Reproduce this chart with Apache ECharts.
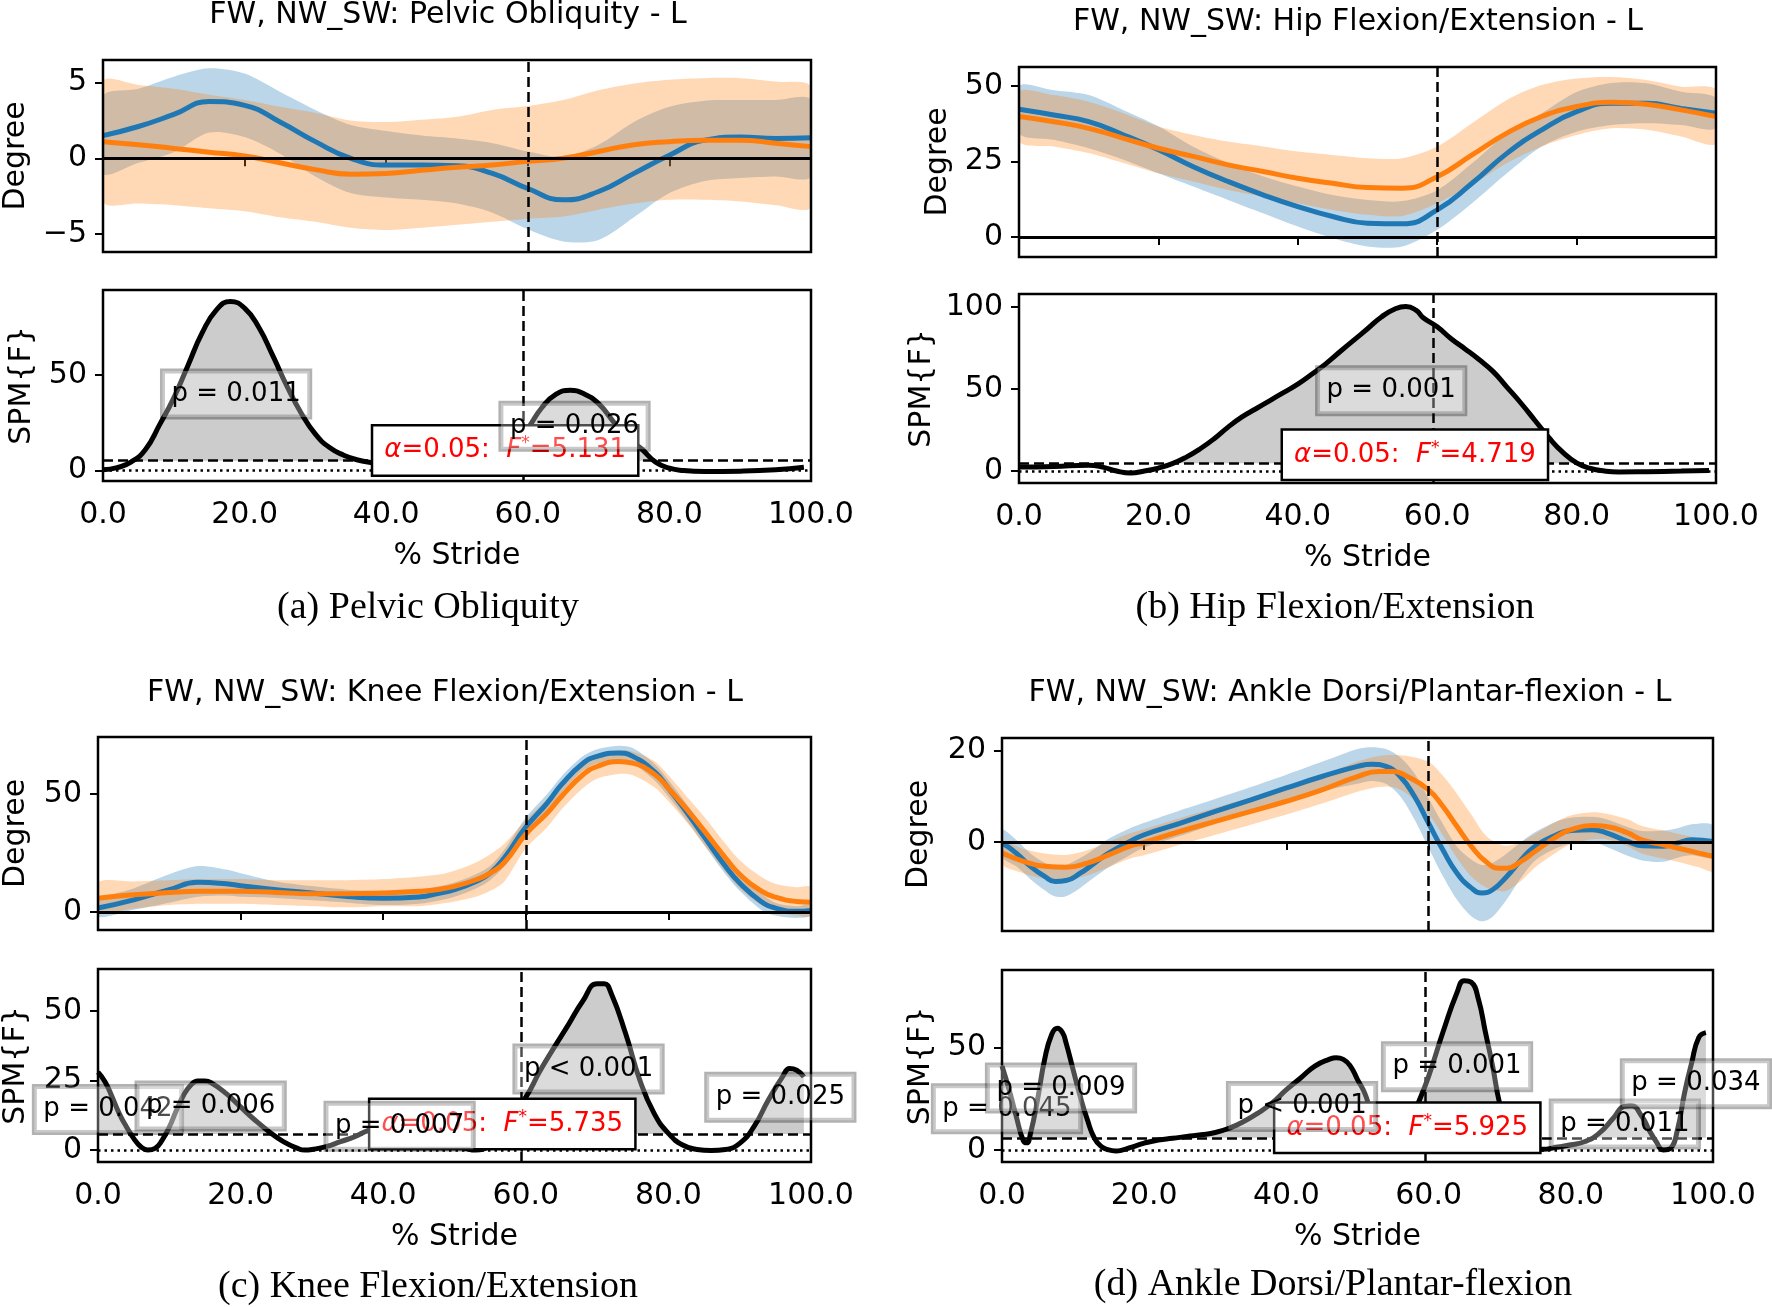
<!DOCTYPE html>
<html><head><meta charset="utf-8">
<script src="https://cdn.jsdelivr.net/npm/echarts@6/dist/echarts.min.js"></script>
<style>html,body{margin:0;padding:0;background:#fff}#c{width:1772px;height:1307px}</style>
</head><body><div id="c"></div><script>
// ---------------- data ----------------
const X21 = [0,5,10,15,20,25,30,35,40,45,50,55,60,65,70,75,80,85,90,95,100];
const toeOffKin = [60, 60, 60, 60];
const toeOffSpm = [59.4, 59.4, 59.4, 59.5];
const thresholds = [5.131, 4.719, 5.735, 5.925];

// (a) Pelvic obliquity
const aBlue    = [1.5,2.1,2.9,3.75,3.5,2.4,1.1,0.0,-0.45,-0.45,-0.5,-1.0,-2.0,-2.75,-2.2,-1.0,0.2,1.2,1.4,1.3,1.35];
const aBlueHi  = [4.1,4.6,5.4,5.95,5.6,4.4,3.2,2.2,1.8,1.5,1.3,1.0,0.45,0.1,0.9,2.4,3.4,3.8,3.85,3.85,3.85];
const aBlueLo  = [-1.0,-0.3,0.4,1.7,1.4,0.3,-1.2,-2.3,-2.6,-2.75,-3.0,-3.6,-4.7,-5.5,-5.4,-3.9,-2.3,-1.5,-1.3,-1.2,-1.2];
const aOrange  = [1.1,0.9,0.65,0.4,0.15,-0.3,-0.75,-1.05,-1.0,-0.8,-0.6,-0.45,-0.2,0.0,0.45,0.9,1.1,1.2,1.2,1.0,0.77];
const aOrangeHi= [5.07,4.85,4.6,4.2,3.85,3.4,3.0,2.5,2.4,2.55,2.75,3.2,3.45,3.85,4.5,4.95,5.2,5.3,5.3,5.07,4.7];
const aOrangeLo= [-2.86,-3.0,-3.1,-3.3,-3.5,-3.9,-4.2,-4.6,-4.75,-4.6,-4.4,-4.2,-4.0,-3.85,-3.4,-3.0,-2.75,-2.75,-2.86,-3.1,-3.2];
const aSpmX = [0,2,4,6,8,10,12,14,16,18,20,22,24,26,28,30,32,34,36,38,40,44,48,52,55,57,58,60,62,64,66,68,70,72,74,76,78,80,82,85,90,95,99];
const aSpmF = [0.35,1.5,4.5,11,24,38,55,72,84,88.5,85,75,60,44,30,19,12,8,5.5,4,2.5,1.2,0.8,1.5,4,9,13,22,33,40,42,40,35,26,17,11.5,4.5,1.2,0,-0.5,-0.35,0.35,1.75];

// (b) Hip flexion/extension
const bBlue    = [42.3,40.4,38.2,33.8,28.9,23.3,18.4,14,10.1,6.8,4.6,4.4,9.0,17.8,27.7,35.5,41.5,44.3,44.3,42.6,41];
const bBlueHi  = [50,48.6,47,42,36.7,29.9,24.5,20.1,16.7,13.9,12.3,11.9,15.5,24.4,34.3,41,48,51,50.9,48.1,46];
const bBlueLo  = [34.4,32.2,29.4,25.6,21.1,16.7,12.3,7.9,3.5,-0.3,-3.1,-3.1,2.4,11.2,21.1,30,34.9,37.1,37.7,37.1,36];
const bOrange  = [39.9,38.2,36,32.7,29.4,26.7,23.9,21.7,19.5,17.8,16.4,16.2,20,27.2,34.4,39.9,43.2,44.6,44,42.1,39.9];
const bOrangeHi= [48.1,47,44.8,41,36.6,33.8,31.6,30,28.3,27.2,26.1,26.1,30,37.7,45.4,50.3,52.5,53,52,49.8,48.7];
const bOrangeLo= [31.6,30,27.8,24.5,21.1,18.4,15.6,13.4,11.2,9,7.4,7,11.2,17.3,24.5,30,33.8,36,35.5,33.3,31];
const bSpmX = [0,5,10,12,14,16,18,20,22,24,26,28,30,32,34,36,38,40,42,44,46,48,50,52,54,55.5,57,58,60,62,64,66,68,70,72,74,76,78,80,82,84,86,90,95,99];
const bSpmF = [2.4,2.8,3.5,2.4,0,-1.2,0,1.8,4.5,8.5,13.6,19.7,26.8,33,38,43,48,53,59,65.4,72.6,79.7,86.8,94,99,100.4,98,93.5,88,80.7,74.5,68,60.8,51.2,41.5,31,20.5,11.5,5,1.6,0,-0.6,-0.4,0,0.4];

// (c) Knee flexion/extension
const cX = [0,5,10,14,18,20,25,30,35,40,45,48,50,53,55,57,60,63,65,68,70,73,75,78,80,83,85,88,90,93,95,98,100];
const cBlue    = [1.7,5.2,9.5,12.6,12,11.2,9.5,8.1,6.6,5.9,6.4,8.1,9.5,13,16.5,23,36,46.2,54,63,66,67.4,66,59.6,52.5,40.5,32,19.4,12.3,4.5,1.7,0.3,0.7];
const cBlueHi  = [5,10,16,19.5,18,16.5,13,11,9.5,9,9.5,11,12.5,16,19.5,26.5,40,50,57.5,66,69,70.5,69.5,63,56,44,35.5,23,16,8,4,2.5,3];
const cBlueLo  = [-2,1,4,6.5,7,6.5,6,5,4,3,3.5,5,6.5,10,13.5,19.5,32,42.5,50.5,60,63,64.5,63,56,49,37,28.5,16,9,1,-1.5,-2.5,-1.5];
const cOrange  = [5.9,7.3,8.3,8.8,8.8,8.8,8.3,7.8,7.8,8.1,8.8,9.7,10.9,13.7,16.5,21,33,42,49,58.2,61.7,63.8,63.1,58.5,52.5,42,34.5,23,16,9,6.3,4.5,4.2];
const cOrangeHi= [12.5,13,13.5,14,14,14,13.5,13.5,13.5,14,15,16,17.5,21,24.5,29,39,48,55,64,67,68.5,68,64,58,47.5,40.5,29,22,15,12,10.5,10.5];
const cOrangeLo= [0,1.5,3,3.5,3.5,3.5,3,2.5,2,2.5,2.5,3.5,4.5,6.5,9,13,27,36,43.5,52.5,56.5,58.5,58,53,47,36.5,28.5,17,10,3,0.5,-1.5,-1.5];
const cSpmX = [0,1,2,3,4,5,6,7,8,9,10,11,12,13,14,15,16,18,20,22,24,26,28,29,30,32,34,36,38,40,42,44,46,48,50,52,53,54,56,58,60,62,64,66,68,70,71,72,74,76,78,80,82,84,86,88,90,92,94,96,97,98,99];
const cSpmF = [28,24.5,19,13,8.3,4.2,1.2,0,0.6,3.6,8.3,14.3,19.7,23.3,24.8,24.8,24,20.3,15.5,10.8,6.6,3,0.6,0,0.2,1.2,3,4.8,7.2,8.2,8.8,8.5,7,4.5,2,0.3,0,0.3,5,12.5,19,28.5,37,45.2,53.6,59.8,59.8,56.2,41.9,25.1,13.2,6,1.8,0.2,-0.2,0.2,2.4,8.4,17.9,26.3,29.3,28.7,26.3];

// (d) Ankle dorsi/plantar-flexion
const dXb = [0,2,4,6,7.5,9,11,13,15,18,20,25,30,35,40,45,50,52,54,56,58,60,62,64,66,67.5,69,71,73,75,78,80,83,85,88,90,93,95,97,100];
const dBlue    = [-0.2,-2.4,-5.3,-7.5,-8.6,-8.4,-6.8,-4.6,-2.4,0.15,1.6,4.1,6.7,9.2,11.8,14.3,16.5,17,16.5,14.3,10,4.1,-1.7,-6.8,-10,-11.1,-10.4,-7.5,-3.9,-0.9,1.6,2.5,2.7,2,0.15,-0.8,-0.9,-0.2,0.5,0.15];
const dBlueHi  = [2.7,0.5,-2.5,-4.5,-5.3,-5,-3.5,-1.5,0.7,3,4.2,6.9,9.4,12,14.7,17.5,20.3,20.7,20.3,18.5,15,9.5,4,-1,-3.8,-5,-4.5,-2.5,0,2.2,4.5,5.3,5.5,5,3.3,2.4,2.5,3,3.9,3.6];
const dBlueLo  = [-3.2,-5.3,-8.1,-10.5,-11.9,-11.8,-10,-7.7,-5.5,-2.8,-1.2,1.3,4,6.4,8.9,11.1,12.7,13.3,12.7,10,5,-1.3,-7.4,-12.6,-16.2,-17.3,-16.3,-12.5,-7.8,-4,-1.3,-0.3,0,-1,-3,-4,-4.3,-3.4,-2.9,-3.3];
const dXo = [0,3,6,9,12,15,18,20,25,30,35,40,45,50,53,55,57,60,62,64,66,68,70,71,73,75,78,80,83,85,88,90,93,95,98,100];
const dOrange  = [-2.4,-4.2,-5.3,-5.5,-4.6,-2.8,-0.9,-0.1,2.3,4.5,6.7,8.9,11.4,14.3,15.4,15.4,14.3,11.4,7.8,3.4,-0.9,-4.2,-5.7,-5.7,-4.2,-2,1.2,2.7,3.6,3.4,2,0.5,-0.6,-1.3,-2.4,-3.1];
const dOrangeHi= [0,-1.5,-2.5,-2.8,-1.8,0,1.9,2.8,5.2,7.5,9.7,12,14.5,17.6,18.8,19,18.8,17.5,14.5,10.5,6,1.5,-0.5,-0.8,0,1.8,4.5,5.8,6.5,6.2,5,3.5,2.5,1.8,0.8,0.2];
const dOrangeLo= [-4.8,-6.8,-8,-8.2,-7.3,-5.5,-3.6,-2.9,-0.6,1.6,3.8,6,8.4,11,12,12,10.5,6,1.5,-3.5,-7.5,-9.8,-10.7,-10.6,-8.5,-5.5,-2.2,-0.5,0.6,0.6,-0.9,-2.5,-3.6,-4.3,-5.5,-6.3];
const dSpmX = [0,1,2,3,3.5,4,5,6,7,7.8,8.5,9,10,11,12,13,14,15,16,17,18,20,22,24,26,28,30,32,34,36,38,40,42,44,46,47,48,49,50,51,52,53,54,55,56,57,58,58.5,60,62,64,65,66,67,68,69,70,71,72,73,74,75,76,78,80,82,84,86,87.5,88.5,90,91,92,93,94,95,96,97,98,99];
const dSpmF = [41,29.5,16.4,4.5,3.5,8,24.6,44.3,56.6,59.5,57.4,52.5,39.3,26.2,14.8,5.7,1.6,0,-0.5,0,1.1,3.3,4.9,5.7,6.6,7.4,8.5,10.7,13.9,18,23,29.5,35.2,41,44.3,45.1,44.3,41,34.4,27.9,18,12,8,7,8,12,19,22.6,36,57.4,77,82.8,82,73.8,57.4,41,22.6,12,6,3,1.5,0.7,0.3,1.3,2.5,4.1,8.2,15.6,21.3,21.6,16.4,9.8,4.1,0,0.8,9.8,27.9,42.6,55,57.4];

// p-value labels [x, y, text] and threshold label anchor [x, y]
const aP = [[18.8,40,'p = 0.011'],[66.6,23.2,'p = 0.026']];
const bP = [[53.4,49,'p = 0.001']];
const cP = [[1.4,14.6,'p = 0.042'],[15.8,15.8,'p = 0.006'],[42.3,8.6,'p = 0.007'],[68.8,29.1,'p < 0.001'],[95.7,19.0,'p = 0.025']];
const dP = [[0.7,20.1,'p = 0.045'],[8.3,30.3,'p = 0.009'],[42.2,21.3,'p < 0.001'],[64.0,40.7,'p = 0.001'],[87.6,12.7,'p = 0.011'],[97.6,32.4,'p = 0.034']];
const thrPos = [[56.8,10.5],[56.8,9.9],[56.7,9.35],[57.0,10.8]];

const titles = ['FW, NW_SW: Pelvic Obliquity - L','FW, NW_SW: Hip Flexion/Extension - L','FW, NW_SW: Knee Flexion/Extension - L','FW, NW_SW: Ankle Dorsi/Plantar-flexion - L'];
const captions = ['(a) Pelvic Obliquity','(b) Hip Flexion/Extension','(c) Knee Flexion/Extension','(d) Ankle Dorsi/Plantar-flexion'];
const kinTicks = [[-5,0,5],[0,25,50],[0,50],[0,20]];
const spmTicks = [[0,50],[0,50,100],[0,25,50],[0,50]];

// ---------------- layout / style ----------------
const FONT = '"DejaVu Sans", sans-serif';
const BLUE = '#1f77b4', ORANGE = '#ff7f0e';
const grids = [
  {left:103, top:60, width:708, height:192},
  {left:103, top:290, width:708, height:191},
  {left:1019, top:67, width:697, height:190},
  {left:1019, top:294, width:697, height:189},
  {left:97, top:737, width:714, height:193},
  {left:97, top:969, width:714, height:193},
  {left:1002, top:738, width:711, height:193},
  {left:1002, top:970, width:711, height:192}
];
const yRanges = [[-6.2,6.5],[-5.5,94.5],[-6.6,56.3],[-7.3,108],[-7.6,74.2],[-4.3,65.1],[-19.4,22.7],[-5.9,88]];
const yGaps = [72,66,66,82,67,67,68,66];
const titlePos = [[448,15],[1358,22],[445,693],[1350,693]];
const capPos = [[428,608],[1335,608],[428,1287],[1333,1285]];

const pairs = (xs, ys) => xs.map((x, i) => [x, ys[i]]);
const rows3 = (xs, lo, hi) => xs.map((x, i) => [x, lo[i], hi[i]]);

const xAxes = [], yAxes = [], series = [];
grids.forEach((g, gi) => {
  const bottom = gi % 2 === 1;
  xAxes.push({
    type:'value', gridIndex:gi, min:0, max:100, interval:20,
    axisLine:{show:false}, splitLine:{show:false},
    axisTick:{show:true, length:8, lineStyle:{color:'#000', width:2}},
    axisLabel:{show:bottom, fontFamily:FONT, fontSize:30, color:'#000', margin:19, formatter:v => v.toFixed(1)},
    name: bottom ? '% Stride' : '', nameLocation:'middle', nameGap:60,
    nameTextStyle:{fontFamily:FONT, fontSize:30, color:'#000'}
  });
  const ticks = bottom ? spmTicks[(gi-1)/2] : kinTicks[gi/2];
  yAxes.push({
    type:'value', gridIndex:gi, min:yRanges[gi][0], max:yRanges[gi][1],
    axisLine:{show:false}, splitLine:{show:false},
    axisTick:{show:true, length:8, lineStyle:{color:'#000', width:2}, customValues:ticks},
    axisLabel:{show:true, customValues:ticks, fontFamily:FONT, fontSize:30, color:'#000', margin:16,
      formatter:v => String(v).replace('-', '\u2212')},
    name: bottom ? 'SPM{F}' : 'Degree', nameLocation:'middle', nameGap:yGaps[gi],
    nameTextStyle:{fontFamily:FONT, fontSize:30, color:'#000'}
  });
});

const base = (gi) => ({type:'line', xAxisIndex:gi, yAxisIndex:gi, symbol:'none', smooth:0.5, silent:true, animation:false});
const vline = (x) => ({xAxis:x, lineStyle:{color:'#000', width:2.5, type:[10,5]}});

function band(gi, rows, color) {
  series.push({
    type:'custom', xAxisIndex:gi, yAxisIndex:gi, silent:true, animation:false, clip:true, z:1,
    data: rows, encode:{x:0, y:[1,2]},
    renderItem: function (params, api) {
      if (params.dataIndex !== 0) return null;
      const up = rows.map(r => api.coord([r[0], r[2]]));
      const lo = rows.map(r => api.coord([r[0], r[1]])).reverse();
      return {type:'polygon', shape:{points: up.concat(lo), smooth:0.3}, style:{fill:color, opacity:0.3}};
    }
  });
}

function addKin(gi, xb, m1, hi1, lo1, xo, m2, hi2, lo2, toe) {
  band(gi, rows3(xb, lo1, hi1), BLUE);
  band(gi, rows3(xo, lo2, hi2), ORANGE);
  series.push(Object.assign(base(gi), {data:pairs(xb, m1), lineStyle:{color:BLUE, width:5}, z:3}));
  series.push(Object.assign(base(gi), {data:pairs(xo, m2), lineStyle:{color:ORANGE, width:5}, z:4,
    markLine:{silent:true, animation:false, symbol:['none','none'], label:{show:false},
      data:[{yAxis:0, lineStyle:{color:'#000', width:3, type:'solid'}}, vline(toe)]}}));
}

function thrText(t) { return '{i|\u03b1}=0.05:  {i|F}{s|*}=' + t.toFixed(3); }

const plain = {textBorderWidth:0, textBorderColor:'transparent', textShadowBlur:0, opacity:1};

function addSpm(gi, xs, fs, thr, toe, pl, tpos) {
  series.push(Object.assign(base(gi), {data:pairs(xs, fs), lineStyle:{width:0, opacity:0}, areaStyle:{color:'#cccccc', opacity:1, origin:'start'}, z:1}));
  series.push(Object.assign(base(gi), {data:[[0, thr],[100, thr]], smooth:false, lineStyle:{width:0, opacity:0}, areaStyle:{color:'#ffffff', opacity:1, origin:'start'}, z:2}));
  series.push(Object.assign(base(gi), {data:pairs(xs, fs), lineStyle:{color:'#000', width:5}, z:3,
    markLine:{silent:true, animation:false, symbol:['none','none'], label:{show:false},
      data:[{yAxis:thr, lineStyle:{color:'#000', width:2.5, type:[10,5]}},
            {yAxis:0, lineStyle:{color:'#000', width:2.5, type:[2.5,4]}},
            vline(toe)]}}));
  series.push({type:'scatter', xAxisIndex:gi, yAxisIndex:gi, symbolSize:1, itemStyle:{color:'rgba(0,0,0,0)', opacity:1}, silent:true, animation:false, z:20,
    data:[{value:tpos, name:String(thr)}],
    label:Object.assign({show:true, position:'inside', formatter:() => thrText(thr), color:'#ff0000', fontFamily:FONT, fontSize:26, lineHeight:30,
      backgroundColor:'#ffffff', borderColor:'#000', borderWidth:2.5, padding:[9,11],
      rich:{i:Object.assign({fontStyle:'italic', color:'#ff0000', fontFamily:FONT, fontSize:26, lineHeight:30}, plain),
            s:Object.assign({color:'#ff0000', fontFamily:FONT, fontSize:17, verticalAlign:'top'}, plain)}}, plain)});
  series.push({type:'scatter', xAxisIndex:gi, yAxisIndex:gi, symbolSize:1, itemStyle:{color:'rgba(0,0,0,0)', opacity:1}, silent:true, animation:false, z:21,
    data:pl.map(p => ({value:[p[0], p[1]], name:p[2]})),
    label:Object.assign({show:true, position:'inside', formatter:'{b}', color:'#000', fontFamily:FONT, fontSize:26, lineHeight:30,
      backgroundColor:'rgba(255,255,255,0.3)', borderColor:'rgba(0,0,0,0.3)', borderWidth:2.5, padding:[8,9]}, plain)});
}

addKin(0, X21, aBlue, aBlueHi, aBlueLo, X21, aOrange, aOrangeHi, aOrangeLo, toeOffKin[0]);
addSpm(1, aSpmX, aSpmF, thresholds[0], toeOffSpm[0], aP, thrPos[0]);
addKin(2, X21, bBlue, bBlueHi, bBlueLo, X21, bOrange, bOrangeHi, bOrangeLo, toeOffKin[1]);
addSpm(3, bSpmX, bSpmF, thresholds[1], toeOffSpm[1], bP, thrPos[1]);
addKin(4, cX, cBlue, cBlueHi, cBlueLo, cX, cOrange, cOrangeHi, cOrangeLo, toeOffKin[2]);
addSpm(5, cSpmX, cSpmF, thresholds[2], toeOffSpm[2], cP, thrPos[2]);
addKin(6, dXb, dBlue, dBlueHi, dBlueLo, dXo, dOrange, dOrangeHi, dOrangeLo, toeOffKin[3]);
addSpm(7, dSpmX, dSpmF, thresholds[3], toeOffSpm[3], dP, thrPos[3]);

const graphic = [];
titles.forEach((t, i) => graphic.push({type:'text', x:titlePos[i][0], y:titlePos[i][1], silent:true,
  style:{text:t, fill:'#000', font:'30px ' + FONT, align:'center', verticalAlign:'middle', textAlign:'center', textVerticalAlign:'middle'}}));
captions.forEach((t, i) => graphic.push({type:'text', x:capPos[i][0], y:capPos[i][1], silent:true,
  style:{text:t, fill:'#000', font:'38px "Liberation Serif", serif', align:'center', verticalAlign:'middle', textAlign:'center', textVerticalAlign:'middle'}}));

const chart = echarts.init(document.getElementById('c'), null, {renderer:'canvas'});
chart.setOption({
  animation:false,
  backgroundColor:'#ffffff',
  grid: grids.map(g => Object.assign({show:true, borderColor:'#000', borderWidth:2.5, backgroundColor:'rgba(0,0,0,0)', z:10}, g)),
  xAxis: xAxes,
  yAxis: yAxes,
  series: series,
  graphic: graphic
});
</script></body></html>
